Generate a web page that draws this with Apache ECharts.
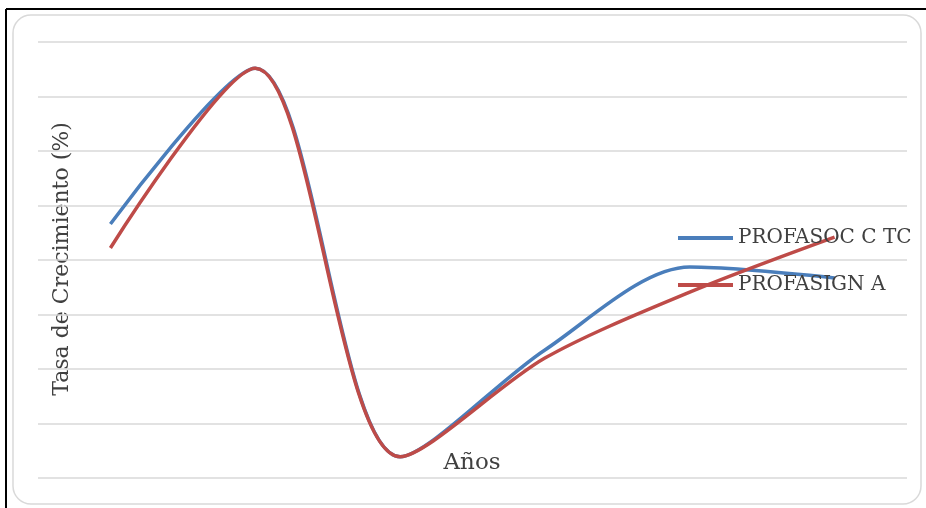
<!DOCTYPE html>
<html>
<head>
<meta charset="utf-8">
<script src="https://cdn.jsdelivr.net/npm/echarts@6/dist/echarts.min.js"></script>
<style>
  html, body { margin: 0; padding: 0; background: #fff; }
  #chart { width: 926px; height: 508px; }
</style>
</head>
<body>
<div id="chart"></div>
<script>
// datos (escala relativa, sin etiquetas en el eje)
const anios = ['1', '2', '3', '4', '5', '6'];
const profasocCTC = [6.6, 35.2, -36.1, -16.5, -1.3, -3.3];
const profasignA = [2.2, 35.2, -36.1, -18.0, -5.9, 4.2];
const nombres = ['PROFASOC C TC', 'PROFASIGN A'];
const colores = ['#4a7ebb', '#be4b48'];

const serif = '"DejaVu Serif", "Liberation Serif", serif';

const chart = echarts.init(document.getElementById('chart'));

const option = {
    backgroundColor: '#fff',
    animation: false,
    grid: { left: 38, right: 19, top: 42, bottom: 30 },
    legend: {
        orient: 'vertical',
        left: 673,
        top: 223,
        icon: 'rect',
        itemWidth: 55,
        itemHeight: 4,
        itemGap: 27,
        data: nombres,
        textStyle: { fontFamily: serif, fontSize: 20, color: '#404040' }
    },
    xAxis: {
        type: 'category',
        data: anios,
        boundaryGap: true,
        axisLine: { show: false },
        axisTick: { show: false },
        axisLabel: { show: false }
    },
    yAxis: {
        type: 'value',
        min: -40,
        max: 40,
        interval: 10,
        axisLine: { show: false },
        axisTick: { show: false },
        axisLabel: { show: false },
        splitLine: { lineStyle: { color: '#d9d9d9', width: 1.5 } }
    },
    series: [
        {
            name: nombres[0],
            type: 'line',
            data: profasocCTC,
            smooth: 0.3,
            symbol: 'none',
            lineStyle: { color: colores[0], width: 3.5 },
            itemStyle: { color: colores[0] }
        },
        {
            name: nombres[1],
            type: 'line',
            data: profasignA,
            smooth: 0.3,
            symbol: 'none',
            lineStyle: { color: colores[1], width: 3.5 },
            itemStyle: { color: colores[1] }
        }
    ],
    graphic: [
        // marco exterior negro
        { type: 'line', shape: { x1: 6, y1: 9, x2: 926, y2: 9 }, style: { stroke: '#000', lineWidth: 2 } },
        { type: 'line', shape: { x1: 6, y1: 9, x2: 6, y2: 508 }, style: { stroke: '#000', lineWidth: 2 } },
        // borde redondeado del area del grafico
        {
            type: 'rect',
            shape: { x: 13, y: 15, width: 908, height: 489, r: 18 },
            style: { fill: 'none', stroke: '#d9d9d9', lineWidth: 1.5 },
            z: -1
        },
        {
            type: 'text',
            x: 62, y: 259,
            rotation: Math.PI / 2,
            style: {
                text: 'Tasa de Crecimiento (%)',
                font: '22px ' + serif,
                fill: '#404040',
                align: 'center',
                verticalAlign: 'middle'
            }
        },
        {
            type: 'text',
            x: 472, y: 463,
            style: {
                text: 'Años',
                font: '23px ' + serif,
                fill: '#404040',
                align: 'center',
                verticalAlign: 'middle'
            }
        }
    ]
};

chart.setOption(option);
</script>
</body>
</html>
